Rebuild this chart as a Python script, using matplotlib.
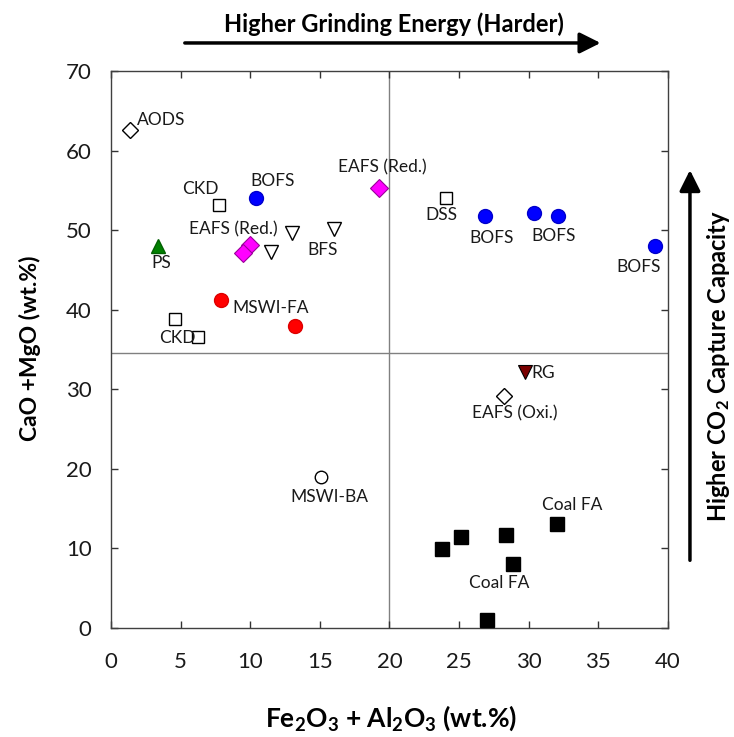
import matplotlib
matplotlib.use("Agg")
import matplotlib.pyplot as plt

plt.rcParams['font.family'] = ['Lato', 'DejaVu Sans']
plt.rcParams['mathtext.default'] = 'regular'

# ---- data ----
aods_x, aods_y = [1.36], [62.6]
ckd_x, ckd_y = [7.75, 4.6, 6.25], [53.2, 38.8, 36.6]
dss_x, dss_y = [24.05], [54.0]
bofs_x, bofs_y = [10.4, 26.85, 30.4, 32.1, 39.05], [54.0, 51.8, 52.2, 51.8, 48.0]
ps_x, ps_y = [3.37], [48.0]
eafs_red_x, eafs_red_y = [9.98, 9.48, 19.24], [48.1, 47.1, 55.3]
bfs_x, bfs_y = [11.5, 13.0, 16.0], [47.3, 49.6, 50.1]
mswifa_x, mswifa_y = [7.9, 13.2], [41.2, 38.0]
rg_x, rg_y = [29.7], [32.2]
eafs_oxi_x, eafs_oxi_y = [28.2], [29.2]
mswiba_x, mswiba_y = [15.07], [19.0]
coal_x, coal_y = [23.76, 25.1, 28.4, 28.9, 32.0, 27.0], [9.93, 11.4, 11.7, 8.0, 13.1, 1.0]

x_div, y_div = 20, 34.6
x_ticks = [0, 5, 10, 15, 20, 25, 30, 35, 40]
y_ticks = [0, 10, 20, 30, 40, 50, 60, 70]

labels = [
    ("AODS", 1.85, 63.9, 'left'),
    ("CKD", 6.4, 55.2, 'center'),
    ("BOFS", 11.6, 56.2, 'center'),
    ("EAFS (Red.)", 8.8, 50.1, 'center'),
    ("PS", 3.6, 45.9, 'center'),
    ("BFS", 15.2, 47.5, 'center'),
    ("MSWI-FA", 11.45, 40.2, 'center'),
    ("CKD", 4.75, 36.5, 'center'),
    ("EAFS (Red.)", 19.5, 57.9, 'center'),
    ("DSS", 23.75, 51.9, 'center'),
    ("BOFS", 27.3, 49.0, 'center'),
    ("BOFS", 31.8, 49.3, 'center'),
    ("BOFS", 37.9, 45.4, 'center'),
    ("RG", 30.2, 32.1, 'left'),
    ("EAFS (Oxi.)", 29.0, 27.0, 'center'),
    ("MSWI-BA", 15.7, 16.4, 'center'),
    ("Coal FA", 33.1, 15.5, 'center'),
    ("Coal FA", 27.9, 5.7, 'center'),
]

fig = plt.figure(figsize=(7.34, 7.37), dpi=100)
ax = fig.add_axes([0.1512, 0.1479, 0.7589, 0.7558])

ax.axvline(x_div, color='#808080', lw=1.0, zorder=1)
ax.axhline(y_div, color='#808080', lw=1.0, zorder=1)

open_kw = dict(mfc='white', mec='black', mew=1.0, ls='none', zorder=3)
ax.plot(aods_x, aods_y, marker='D', ms=8, **open_kw)
ax.plot(ckd_x, ckd_y, marker='s', ms=9, **open_kw)
ax.plot(dss_x, dss_y, marker='s', ms=9, **open_kw)
ax.plot(bfs_x, bfs_y, marker='v', ms=10, **open_kw)
ax.plot(eafs_oxi_x, eafs_oxi_y, marker='D', ms=8, **open_kw)
ax.plot(mswiba_x, mswiba_y, marker='o', ms=9, **open_kw)

ax.plot(bofs_x, bofs_y, marker='o', ms=10, mfc='#0000ff', mec='#0000cc', ls='none', zorder=3)
ax.plot(ps_x, ps_y, marker='^', ms=10, mfc='#008000', mec='#006000', ls='none', zorder=3)
ax.plot(eafs_red_x, eafs_red_y, marker='D', ms=9, mfc='#ff00ff', mec='#990099', mew=0.8, ls='none', zorder=3)
ax.plot(mswifa_x, mswifa_y, marker='o', ms=10, mfc='#ff0000', mec='#dd0000', ls='none', zorder=3)
ax.plot(rg_x, rg_y, marker='v', ms=10, mfc='#7a0000', mec='black', mew=0.8, ls='none', zorder=3)
ax.plot(coal_x, coal_y, marker='s', ms=10, mfc='black', mec='black', ls='none', zorder=3)

for txt, lx, ly, ha in labels:
    ax.text(lx, ly, txt, ha=ha, va='center', fontsize=12.5, color='#1a1a1a', zorder=4)

ax.set_xlim(0, 40)
ax.set_ylim(0, 70)
ax.set_xticks(x_ticks)
ax.set_yticks(y_ticks)
ax.tick_params(direction='in', length=5, width=1, top=True, right=True,
               labelsize=16, colors='#333333', labelcolor='#1a1a1a')
ax.tick_params(axis='x', pad=17)
ax.tick_params(axis='y', pad=14)
for s in ax.spines.values():
    s.set_color('#404040')
    s.set_linewidth(1.0)

fig.text(0.041, 0.528, "CaO +MgO (wt.%)", rotation=90, ha='center', va='center',
         fontsize=16.5, fontweight='bold')
fig.text(0.533, 0.026, "Fe$_2$O$_3$ + Al$_2$O$_3$ (wt.%)", ha='center', va='center',
         fontsize=19, fontweight='bold')

fig.text(0.537, 0.967, "Higher Grinding Energy (Harder)", ha='center', va='center',
         fontsize=17, fontweight='bold')
fig.text(0.979, 0.503, "Higher CO$_2$ Capture Capacity", rotation=90, ha='center', va='center',
         fontsize=17, fontweight='bold')

arrow_kw = dict(arrowstyle='-|>,head_length=0.9,head_width=0.45', lw=2.5, color='black')
fig.add_artist(matplotlib.patches.FancyArrowPatch((0.248, 0.9417), (0.822, 0.9417),
               transform=fig.transFigure, mutation_scale=14, **arrow_kw))
fig.add_artist(matplotlib.patches.FancyArrowPatch((0.940, 0.236), (0.940, 0.773),
               transform=fig.transFigure, mutation_scale=14, **arrow_kw))

fig.savefig("out.png", dpi=100)
